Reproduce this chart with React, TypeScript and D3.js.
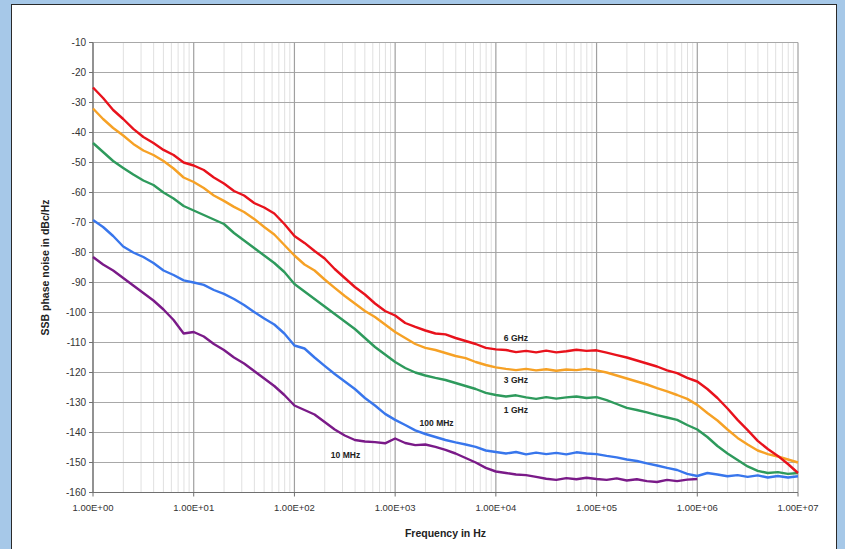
import * as d3 from "d3";

// sampling grid in decades (log10 of Hz)
const LOG_F = d3.range(0, 7.001, 0.1);

const RED_6GHZ = [
  -25, -28.5, -32.5, -35.5, -38.8, -41.5, -43.5, -45.8, -47.5, -50, -51,
  -52.5, -55, -57, -59.5, -61, -63.5, -65, -67, -70.5, -74.5,
  -76.8, -79.5, -82, -85.5, -88.5, -91.5, -94, -97, -99.5, -101,
  -103.5, -104.8, -106, -107, -107.3, -108.5, -109.5, -110.5, -111.8, -112.3,
  -112.5, -113.2, -112.8, -113.3, -112.7, -113.3, -112.9, -112.4, -112.8, -112.6,
  -113.4, -114.2, -115, -116, -117, -118, -119.3, -120.2, -121.8, -123,
  -125.5, -128.5, -132, -135.8, -139.2, -142.8, -145.5, -147.8, -150.5, -153.5,
];

const ORANGE_3GHZ = [
  -32, -35.5, -38.5, -41, -43.8, -46, -47.5, -49.5, -52, -55, -56.5,
  -58.5, -61, -62.8, -64.8, -66.5, -68.8, -71.5, -74, -77.5, -81,
  -84, -86, -89, -91.8, -94.5, -97, -99.5, -101.5, -104, -106.5,
  -108.5, -110.5, -111.8, -112.5, -113.5, -114.5, -115.2, -116.5, -117.5, -118.3,
  -118.8, -119.2, -118.8, -119.3, -118.9, -119.4, -119, -119.2, -118.8, -119.3,
  -120, -121, -122, -123, -124, -125.2, -126.3, -127.5, -128.8, -130.8,
  -133.5, -136, -139, -141.8, -144, -146, -147.2, -148, -149, -150,
];

const GREEN_1GHZ = [
  -43.5, -46.5, -49.5, -51.8, -54, -56, -57.5, -60, -62, -64.5, -66,
  -67.5, -69, -70.5, -73.5, -76, -78.5, -81, -83.5, -86.5, -90.5,
  -93, -95.5, -98, -100.5, -103, -105.5, -108.5, -111.5, -114, -116.5,
  -118.5, -120, -121, -121.8, -122.5, -123.5, -124.5, -125.5, -126.8, -127.5,
  -128, -127.6, -128.3, -128.8, -128.2, -128.7, -128.3, -128, -128.5, -128.2,
  -129.2, -130.5, -131.8, -132.5, -133.3, -134.2, -135, -135.8, -137.5, -139,
  -141.5, -144.5, -147, -149.2, -151.3, -152.8, -153.5, -153.2, -153.8, -153.5,
];

const BLUE_100MHZ = [
  -69.2, -71.5, -74.5, -78, -80, -81.5, -83.5, -86, -87.5, -89.3, -90,
  -90.8, -92.5, -93.8, -95.5, -97.5, -99.8, -102, -104, -107, -111,
  -112, -115, -117.8, -120.5, -123, -125.5, -128.5, -131, -133.8, -135.8,
  -137.5, -139.3, -140.5, -141.5, -142.5, -143.3, -144, -144.8, -146, -146.5,
  -147, -146.5, -147.3, -146.7, -147.2, -146.8, -147.3, -146.6, -147, -147.2,
  -147.8, -148.3, -149, -149.5, -150.3, -151, -151.8, -152.5, -153.8, -154.5,
  -153.5, -154, -154.6, -154.2, -154.8, -154.3, -155, -154.5, -155, -154.6,
];

// measured only up to 1 MHz
const PURPLE_10MHZ = [
  -81.5, -84, -86, -88.5, -91, -93.5, -96, -99, -102.5, -107, -106.5,
  -108, -110.5, -112.5, -115, -117, -119.5, -122, -124.5, -127.5, -131,
  -132.5, -134, -136.5, -139, -141, -142.5, -143, -143.2, -143.6, -142,
  -143.5, -144.2, -144, -144.8, -145.8, -147, -148.5, -150, -151.8, -153,
  -153.5, -154, -154.2, -154.8, -155.4, -155.8, -155.2, -155.6, -155.1, -155.5,
  -155.8, -155.3, -156, -155.6, -156.2, -156.5, -155.8, -156.2, -155.7, -155.5,
];

const SERIES = [
  { name: "6 GHz", color: "#e8121c", values: RED_6GHZ },
  { name: "3 GHz", color: "#f6a125", values: ORANGE_3GHZ },
  { name: "1 GHz", color: "#2e9a5c", values: GREEN_1GHZ },
  { name: "100 MHz", color: "#3876ec", values: BLUE_100MHZ },
  { name: "10 MHz", color: "#7a1a88", values: PURPLE_10MHZ },
];

// where the series names sit (frequency, dB)
const LABELS = [
  { text: "6 GHz", f: 1.2e4, v: -108.5 },
  { text: "3 GHz", f: 1.2e4, v: -122.5 },
  { text: "1 GHz", f: 1.2e4, v: -132.5 },
  { text: "100 MHz", f: 1.75e3, v: -137 },
  { text: "10 MHz", f: 2.3e2, v: -147.5 },
];

const Y_TICKS = d3.range(-10, -161, -10);
const X_DECADES = d3.range(0, 8);

const W = 845;
const H = 549;
const M = { left: 93, right: 798, top: 42.5, bottom: 492.5 };
const FONT = "'Liberation Sans', Arial, sans-serif";

export default function App() {
  const x = d3.scaleLog().domain([1, 1e7]).range([M.left, M.right]);
  const y = d3.scaleLinear().domain([-10, -160]).range([M.top, M.bottom]);

  const minor: number[] = [];
  X_DECADES.slice(0, -1).forEach((d) => {
    for (let k = 2; k <= 9; k++) minor.push(k * 10 ** d);
  });

  const line = d3
    .line<[number, number]>()
    .x((p) => x(p[0]))
    .y((p) => y(p[1]));

  return (
    <svg
      width={W}
      height={H}
      style={{ position: "absolute", left: 0, top: 0 }}
      fontFamily={FONT}
    >
      <rect x={0} y={0} width={W} height={H} fill="#a6c8e8" />
      <rect x={11.5} y={4.5} width={825} height={H + 10} fill="#ffffff" stroke="#2a2a2a" strokeWidth={1} />

      {/* minor vertical grid */}
      {minor.map((f) => (
        <line key={"m" + f} x1={x(f)} x2={x(f)} y1={M.top} y2={M.bottom} stroke="#e0e0e0" strokeWidth={1} />
      ))}
      {/* horizontal grid */}
      {Y_TICKS.map((v) => (
        <line key={"h" + v} x1={M.left} x2={M.right} y1={y(v)} y2={y(v)} stroke="#a8a8a8" strokeWidth={1.2} />
      ))}
      {/* decade grid */}
      {X_DECADES.map((d) => (
        <line key={"d" + d} x1={x(10 ** d)} x2={x(10 ** d)} y1={M.top} y2={M.bottom} stroke="#a0a0a0" strokeWidth={1.2} />
      ))}

      {/* axes */}
      <line x1={M.left} x2={M.left} y1={M.top} y2={M.bottom} stroke="#707070" strokeWidth={1.2} />
      <line x1={M.left} x2={M.right} y1={M.bottom} y2={M.bottom} stroke="#707070" strokeWidth={1.2} />
      {Y_TICKS.map((v) => (
        <line key={"yt" + v} x1={M.left - 4} x2={M.left} y1={y(v)} y2={y(v)} stroke="#707070" />
      ))}
      {X_DECADES.map((d) => (
        <line key={"xt" + d} x1={x(10 ** d)} x2={x(10 ** d)} y1={M.bottom} y2={M.bottom + 4} stroke="#707070" />
      ))}

      {Y_TICKS.map((v) => (
        <text key={"yl" + v} x={M.left - 7} y={y(v)} dy="0.35em" textAnchor="end" fontSize={10} fill="#333">
          {v}
        </text>
      ))}
      {X_DECADES.map((d) => (
        <text key={"xl" + d} x={x(10 ** d)} y={M.bottom + 18} textAnchor="middle" fontSize={9.5} fill="#333">
          {`1.00E+${String(d).padStart(2, "0")}`}
        </text>
      ))}

      {/* series, drawn bottom-up so red sits on top */}
      {[...SERIES].reverse().map((s) => (
        <path
          key={s.name}
          d={line(s.values.map((v, i) => [10 ** LOG_F[i], v] as [number, number])) ?? ""}
          fill="none"
          stroke={s.color}
          strokeWidth={2.4}
          strokeLinejoin="round"
        />
      ))}

      {LABELS.map((l) => (
        <text key={l.text} x={x(l.f)} y={y(l.v)} dy="0.35em" fontSize={8.5} fontWeight="bold" fill="#222">
          {l.text}
        </text>
      ))}

      <text x={(M.left + M.right) / 2} y={537} textAnchor="middle" fontSize={10.5} fontWeight="bold" fill="#222">
        Frequency in Hz
      </text>
      <text
        transform={`translate(49,${(M.top + M.bottom) / 2}) rotate(-90)`}
        textAnchor="middle"
        fontSize={10.5}
        fontWeight="bold"
        fill="#222"
      >
        SSB phase noise in dBc/Hz
      </text>
    </svg>
  );
}
